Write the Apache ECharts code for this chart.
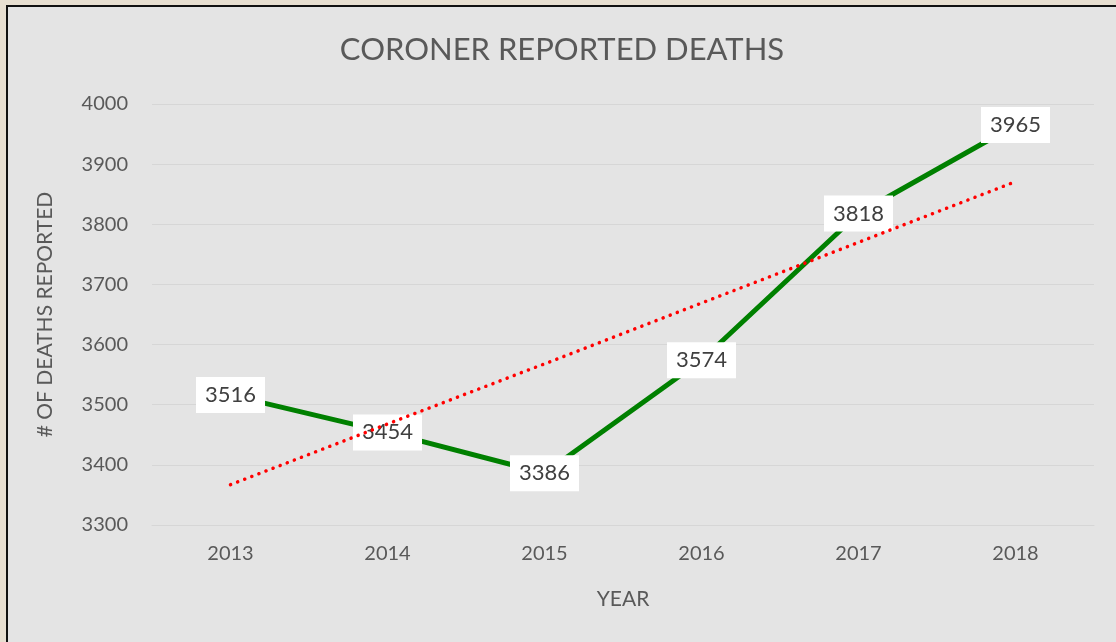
<!DOCTYPE html>
<html>
<head>
<meta charset="utf-8">
<script src="https://cdn.jsdelivr.net/npm/echarts@6/dist/echarts.min.js"></script>
<style>
  html, body { margin: 0; padding: 0; background: #e7dfd1; width: 1116px; height: 642px; overflow: hidden; }
  #chart { position: absolute; left: 6px; top: 5px; width: 1108px; height: 635px;
           border-left: 2px solid #111; border-top: 2px solid #111; background: #e4e4e4; }
</style>
</head>
<body>
<div id="chart"></div>
<script>
var years = ['2013', '2014', '2015', '2016', '2017', '2018'];
var deaths = [3516, 3454, 3386, 3574, 3818, 3965];
// linear trend line
var trend = [3367, 3468, 3568, 3669, 3770, 3871];

var chart = echarts.init(document.getElementById('chart'));
var font = 'Lato, "Open Sans", sans-serif';
var option = {
    backgroundColor: '#e4e4e4',
    animation: false,
    title: {
        text: 'CORONER REPORTED DEATHS',
        left: 'center',
        top: 22,
        textStyle: { color: '#595959', fontSize: 31, fontWeight: 'normal', fontFamily: font }
    },
    grid: { left: 144, right: 22, top: 97, bottom: 117 },
    xAxis: {
        type: 'category',
        data: years,
        boundaryGap: true,
        name: 'YEAR',
        nameLocation: 'middle',
        nameGap: 64,
        nameTextStyle: { color: '#595959', fontSize: 21, fontFamily: font },
        axisLine: { show: true, lineStyle: { color: '#d6d6d6', width: 1 } },
        axisTick: { show: false },
        axisLabel: { color: '#595959', fontSize: 20, margin: 19, fontFamily: font }
    },
    yAxis: {
        type: 'value',
        min: 3300,
        max: 4000,
        interval: 100,
        name: '# OF DEATHS REPORTED',
        nameLocation: 'middle',
        nameGap: 96,
        nameTextStyle: { color: '#595959', fontSize: 21, fontFamily: font },
        axisLine: { show: false },
        axisTick: { show: false },
        axisLabel: { color: '#595959', fontSize: 20, margin: 24, fontFamily: font,
                     formatter: function (v) { return String(v); } },
        splitLine: { lineStyle: { color: '#d6d6d6', width: 1 } }
    },
    series: [
        {
            name: 'Deaths',
            type: 'line',
            data: deaths,
            symbol: 'circle',
            symbolSize: 1,
            itemStyle: { color: 'rgba(0,0,0,0)' },
            z: 2,
            lineStyle: { color: '#008000', width: 5 },
            label: {
                show: true,
                position: 'inside',
                color: '#404040',
                fontSize: 22,
                fontFamily: font,
                backgroundColor: '#ffffff',
                padding: [7, 9, 7, 9]
            }
        },
        {
            name: 'Trend',
            type: 'line',
            data: trend,
            symbol: 'none',
            z: 5,
            lineStyle: { color: '#ff0000', width: 3.5, type: [0.1, 7.5], cap: 'round' }
        }
    ]
};
chart.setOption(option);
</script>
</body>
</html>
